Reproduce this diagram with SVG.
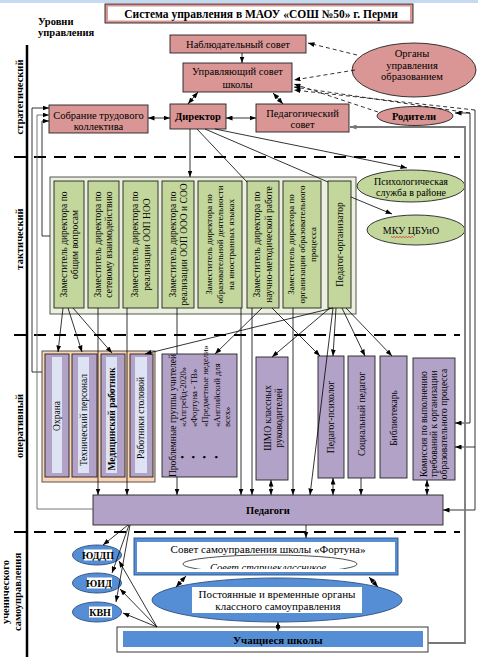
<svg xmlns="http://www.w3.org/2000/svg" width="478" height="657" viewBox="0 0 478 657">
<style>
text{font-family:"Liberation Serif","Times New Roman",serif;fill:#000;font-size:10.5px}
.m{text-anchor:middle}
.b{font-weight:bold}
.v{font-size:9.5px;text-anchor:middle}
.vs{font-size:8.6px}
.pk{fill:#d99694;stroke:#222;stroke-width:0.9}
.gr{fill:#c3d69b;stroke:#222;stroke-width:0.9}
.pu{fill:#b3a2c7;stroke:#222;stroke-width:0.9}
.st{fill:#dde3f3}
.bl{fill:#558ed5;stroke:#2c4f80;stroke-width:0.9}
.c{stroke:#000;stroke-width:0.8;fill:none}
.cm{marker-end:url(#ah)}
.cd{marker-start:url(#ah);marker-end:url(#ah)}
.ds{stroke-dasharray:4 3}
.lv{stroke:#000;stroke-width:2;stroke-dasharray:12 8;fill:none}
</style>
<defs>
<marker id="ah" viewBox="0 0 8 6" refX="8" refY="3" markerWidth="6.5" markerHeight="5" markerUnits="userSpaceOnUse" orient="auto-start-reverse"><path d="M0,0L8,3L0,6z" fill="#000"/></marker>
<marker id="ahg" viewBox="0 0 8 6" refX="8" refY="3" markerWidth="6.5" markerHeight="5" markerUnits="userSpaceOnUse" orient="auto-start-reverse"><path d="M0,0L8,3L0,6z" fill="#777"/></marker>
<clipPath id="cl"><rect x="137" y="542" width="258" height="27"/></clipPath>
</defs>
<rect width="478" height="657" fill="#fff"/>
<rect x="0" y="0" width="478" height="3" fill="#c6d9f0"/>

<g id="title">
<rect x="105" y="4" width="308" height="19" class="pk"/>
<rect x="108" y="6.5" width="302" height="14" fill="#fff"/>
<text x="261" y="18" class="m b" style="font-size:11.5px">Система управления в МАОУ «СОШ №50» г. Перми</text>
</g>
<g id="levels">
<text x="38" y="25" class="b">Уровни</text>
<text x="38" y="36" class="b">управления</text>
<line x1="27" y1="45" x2="27" y2="657" stroke="#000" stroke-width="2.5"/>
<text transform="translate(22.5,97) rotate(-90)" class="m b">стратегический</text>
<text transform="translate(23,239) rotate(-90)" class="m b">тактический</text>
<text transform="translate(23,426) rotate(-90)" class="m b">оперативный</text>
<text transform="translate(8.5,592) rotate(-90)" class="m b">ученического</text>
<text transform="translate(20.5,592) rotate(-90)" class="m b">самоуправления</text>
<path class="lv" d="M14,157H460M14,335H460M14,532H460"/>
</g>

<g id="nab"><rect x="170" y="35" width="136" height="18" class="pk"/><text x="238" y="47.5" class="m">Наблюдательный совет</text></g>
<g id="upr"><rect x="183" y="63" width="109" height="29" class="pk"/><text x="237.5" y="75" class="m">Управляющий совет</text><text x="237.5" y="87.5" class="m">школы</text></g>
<g id="sob"><rect x="49" y="105" width="99" height="28" class="pk"/><text x="98.5" y="118.5" class="m">Собрание трудового</text><text x="98.5" y="130" class="m">коллектива</text></g>
<g id="dir"><rect x="170" y="104" width="56" height="25" class="pk"/><text x="198" y="120" class="m b">Директор</text></g>
<g id="ped"><rect x="256" y="104" width="93" height="28" class="pk"/><text x="302.5" y="116.5" class="m">Педагогический</text><text x="302.5" y="128" class="m">совет</text></g>
<g id="org"><ellipse cx="414" cy="70" rx="62" ry="27" class="pk"/><text x="412" y="57" class="m">Органы</text><text x="412" y="68.5" class="m">управления</text><text x="412" y="80" class="m">образованием</text></g>
<g id="rod"><ellipse cx="415" cy="116" rx="38" ry="9.5" class="pk"/><text x="414" y="120" class="m b">Родители</text></g>

<g id="tact">
<rect x="50" y="177" width="306" height="137" fill="#ebf1de" stroke="#444" stroke-width="0.9"/>
<g id="z1"><rect x="54" y="181" width="30" height="127" class="gr"/><text transform="translate(69,244.5) rotate(-90)" class="v"><tspan x="0" y="-2.2">Заместитель директора по</tspan><tspan x="0" y="8.8">общим вопросам</tspan></text></g>
<g id="z2"><rect x="88" y="181" width="31" height="127" class="gr"/><text transform="translate(103.5,244.5) rotate(-90)" class="v"><tspan x="0" y="-2.2">Заместитель директора по</tspan><tspan x="0" y="8.8">сетевому взаимодействию</tspan></text></g>
<g id="z3"><rect x="123" y="181" width="35" height="127" class="gr"/><text transform="translate(140.5,244.5) rotate(-90)" class="v"><tspan x="0" y="-2.7">Заместитель директора по</tspan><tspan x="0" y="9.3">реализации ООП НОО</tspan></text></g>
<g id="z4"><rect x="162" y="181" width="32" height="127" class="gr"/><text transform="translate(178,244.5) rotate(-90)" class="v"><tspan x="0" y="-2.2">Заместитель директора по</tspan><tspan x="0" y="8.8">реализации ООП ООО и СОО</tspan></text></g>
<g id="z5"><rect x="198" y="181" width="44" height="127" class="gr"/><text transform="translate(220,244.5) rotate(-90)" class="v" style="font-size:9px"><tspan x="0" y="-7.7">Заместитель директора по</tspan><tspan x="0" y="3.3">образовательной деятельности</tspan><tspan x="0" y="14.3">на иностранных языках</tspan></text></g>
<g id="z6"><rect x="247" y="181" width="32" height="127" class="gr"/><text transform="translate(263,244.5) rotate(-90)" class="v"><tspan x="0" y="-2.7">Заместитель директора по</tspan><tspan x="0" y="9.3">научно-методической работе</tspan></text></g>
<g id="z7"><rect x="283" y="181" width="38" height="127" class="gr"/><text transform="translate(302,244.5) rotate(-90)" class="v" style="font-size:9px"><tspan x="0" y="-7.7">Заместитель директора по</tspan><tspan x="0" y="3.3">организации образовательного</tspan><tspan x="0" y="14.3">процесса</tspan></text></g>
<g id="z8"><rect x="328" y="181" width="23" height="127" class="gr"/><text transform="translate(339.5,244.5) rotate(-90)" class="v"><tspan x="0" y="3.3">Педагог-организатор</tspan></text></g>
</g>
<g id="psy"><ellipse cx="411" cy="186" rx="54" ry="16" class="gr"/><text x="411" y="185" class="m" style="font-size:10px">Психологическая</text><text x="411" y="195.5" class="m" style="font-size:10px">служба в районе</text></g>
<g id="mku"><ellipse cx="416" cy="230" rx="49" ry="15" class="gr"/><text x="411" y="233.5" class="m" style="font-size:10px">МКУ ЦБУиО</text><path d="M391,236.5l1.5,1l1.5,-1l1.5,1l1.5,-1l1.5,1l1.5,-1l1.5,1l1.5,-1l1.5,1l1.5,-1l1.5,1l1.5,-1l1.5,1l1.5,-1l1.5,1" fill="none" stroke="#d00" stroke-width="0.6"/></g>

<g id="oper">
<rect x="42" y="351" width="113" height="131" fill="#fcd5b5" stroke="#444" stroke-width="0.9"/>
<g id="o1"><rect x="45" y="354" width="24" height="123" class="pu"/><rect x="52" y="357" width="10" height="116" class="st"/><text transform="translate(57,416) rotate(-90)" class="v" y="3.3">Охрана</text></g>
<g id="o2"><rect x="72" y="354" width="25" height="123" class="pu"/><rect x="78" y="357" width="11" height="116" class="st"/><text transform="translate(83.5,420) rotate(-90)" class="v" y="3.3">Технический персонал</text></g>
<g id="o3"><rect x="101" y="354" width="24" height="123" class="pu"/><rect x="106" y="357" width="11" height="116" class="st"/><text transform="translate(111.5,419) rotate(-90)" class="v b" y="3.3">Медицинский работник</text></g>
<g id="o4"><rect x="130" y="354" width="23" height="123" class="pu"/><rect x="135" y="357" width="12" height="116" class="st"/><text transform="translate(141,418) rotate(-90)" class="v" y="3.3">Работники столовой</text></g>
</g>
<g id="prob"><rect x="162" y="354" width="75" height="123" class="pu"/>
<text transform="translate(176,415.5) rotate(-90)" class="v">Проблемные группы учителей</text>
<text transform="translate(186,457) rotate(-90)" class="v">•</text>
<text transform="translate(197,457) rotate(-90)" class="v">•</text>
<text transform="translate(208,457) rotate(-90)" class="v">•</text>
<text transform="translate(220,457) rotate(-90)" class="v">•</text>
<text transform="translate(186,427) rotate(-90)" class="vs">«Апгрейд-2020»</text>
<text transform="translate(197,427) rotate(-90)" class="vs">«Фортуна - ТВ»</text>
<text transform="translate(208,427) rotate(-90)" class="vs">«Предметные недели»</text>
<text transform="translate(220,427) rotate(-90)" class="vs">«Английский для</text>
<text transform="translate(230,427) rotate(-90)" class="vs">всех»</text>
</g>
<g id="shmo"><rect x="256" y="357" width="32" height="123" class="pu"/><text transform="translate(273,418) rotate(-90)" class="v"><tspan x="0" y="-2.2">ШМО классных</tspan><tspan x="0" y="8.8">руководителей</tspan></text></g>
<g id="pp"><rect x="318" y="356" width="26" height="122" class="pu"/><text transform="translate(331,417) rotate(-90)" class="v" y="3.3">Педагог-психолог</text></g>
<g id="sp"><rect x="348" y="356" width="27" height="122" class="pu"/><text transform="translate(361.5,414) rotate(-90)" class="v" y="3.3">Социальный педагог</text></g>
<g id="bib"><rect x="380" y="356" width="27" height="122" class="pu"/><text transform="translate(393.5,418) rotate(-90)" class="v" y="3.3">Библиотекарь</text></g>
<g id="kom"><rect x="413" y="358" width="42" height="122" class="pu"/><text transform="translate(434,424) rotate(-90)" class="v"><tspan x="0" y="-6.7">Комиссия по выполнению</tspan><tspan x="0" y="3.3">требований к организации</tspan><tspan x="0" y="13.3">образовательного процесса</tspan></text></g>
<g id="pedagogi"><rect x="93" y="495" width="350" height="30" class="pu"/><text x="268" y="514" class="m b">Педагоги</text></g>

<g id="sovet"><rect x="134" y="538" width="264" height="37" class="bl"/><rect x="137" y="542" width="258" height="30" fill="#fff"/><text x="268" y="553" class="m" style="font-size:11px">Совет самоуправления школы «Фортуна»</text>
<g clip-path="url(#cl)"><ellipse cx="270" cy="564" rx="87" ry="9" fill="#fff" stroke="#222" stroke-width="0.8"/><text x="268" y="571" class="m" style="font-size:10.5px;font-style:italic">Совет старшеклассников</text></g></g>
<g id="post"><ellipse cx="277" cy="600" rx="125" ry="22" class="bl"/><rect x="192" y="587" width="170" height="26" fill="#fff"/><text x="277" y="598" class="m" style="font-size:11px">Постоянные и временные органы</text><text x="278" y="610" class="m" style="font-size:11px">классного самоуправления</text></g>
<g id="uch"><rect x="117" y="627" width="311" height="25" fill="#fff" stroke="#222" stroke-width="0.9"/><rect x="123" y="631" width="300" height="16" fill="#558ed5"/><text x="233" y="643.5" class="b" style="font-size:11px">Учащиеся школы</text></g>
<g id="yuddp"><ellipse cx="97" cy="555" rx="24.5" ry="10" class="bl"/><rect x="84" y="549.5" width="28" height="11" fill="#fff"/><text x="98" y="559" class="m b" style="font-size:10px">ЮДДП</text></g>
<g id="yuid"><ellipse cx="97" cy="583" rx="24.5" ry="10" class="bl"/><rect x="87" y="577.5" width="25" height="11" fill="#fff"/><text x="99" y="587" class="m b" style="font-size:10px">ЮИД</text></g>
<g id="kvn"><ellipse cx="97" cy="612" rx="24.5" ry="10" class="bl"/><rect x="89" y="606.5" width="23" height="11" fill="#fff"/><text x="100" y="616" class="m b" style="font-size:10px">КВН</text></g>

<g id="connectors">
<path class="c cm" d="M242,53V63"/>
<path class="c cd" d="M198,92L188,104"/>
<path class="c cd" d="M148,118H170"/>
<path class="c cd" d="M226,118H256"/>
<path class="c cd" d="M273,93L283,104"/>
<path class="c cm" d="M190,129V177"/>
<path class="c" d="M197,129L247,182"/>
<path class="c" d="M205,129L328,182"/>
<path class="c cm" d="M215,129L407,168"/>
<path class="c cm" d="M351,197L392,214"/>
<path class="c ds cm" d="M357,55L308,43"/>
<path class="c ds cm" d="M355,70L294,80"/>
<path class="c ds cm" d="M378,112L294,84"/>
<path class="c ds cm" d="M470,113L294,87"/>
<path class="c ds cm" d="M475,110L294,90"/>
<path class="c cd" d="M455,113H470V423H455"/>
<path class="c cm" d="M475,110V510H443"/>
<path class="c cm" d="M475,447H455"/>
<path d="M428,643H465V127H350" fill="none" stroke="#777" stroke-width="1.8" marker-end="url(#ahg)"/>
<path class="c cm" d="M42,372H32V108H49"/>
<path d="M93,509H37V115H49" fill="none" stroke="#666" stroke-width="0.9" marker-end="url(#ah)"/>
<path class="c cm" d="M50,236H42V121H49"/>
<path class="c cm" d="M63,308L58,352"/>
<path class="c cm" d="M68,308L82,352"/>
<path class="c cm" d="M73,308L112,353"/>
<path class="c cm" d="M98,308V495"/>
<path class="c cm" d="M127,308V495"/>
<path class="c" d="M177,308V354"/>
<path class="c cm" d="M177,477V495"/>
<path class="c cm" d="M241,308V495"/>
<path class="c cm" d="M252,308V495"/>
<path class="c cm" d="M262,308L215,354"/>
<path class="c cm" d="M272,308L320,356"/>
<path class="c cm" d="M293,308V495"/>
<path class="c cm" d="M330,308L272,357"/>
<path class="c cm" d="M333,308L145,354"/>
<path class="c cm" d="M336,308L333,356"/>
<path class="c cm" d="M333,308L310,495"/>
<path class="c cm" d="M342,308L365,356"/>
<path class="c cm" d="M346,308L392,356"/>
<path class="c cd" d="M271,480V495"/>
<path class="c cd" d="M333,478V495"/>
<path class="c cm" d="M361,478V495"/>
<path class="c cd" d="M427,480V495"/>
<path class="c cm" d="M306,525V538"/>
<path class="c cm" d="M128,525L103,545"/>
<path class="c cm" d="M129,525L112,573"/>
<path class="c cm" d="M130,525L116,602"/>
<path class="c cm" d="M157,627L119,561"/>
<path class="c cm" d="M157,627L120,589"/>
<path class="c cm" d="M157,627L123,613"/>
<path class="c cd" d="M176,587L186,576"/>
<path class="c cd" d="M369,577L378,587"/>
<path class="c cd" d="M278,622V631"/>
</g>
</svg>
